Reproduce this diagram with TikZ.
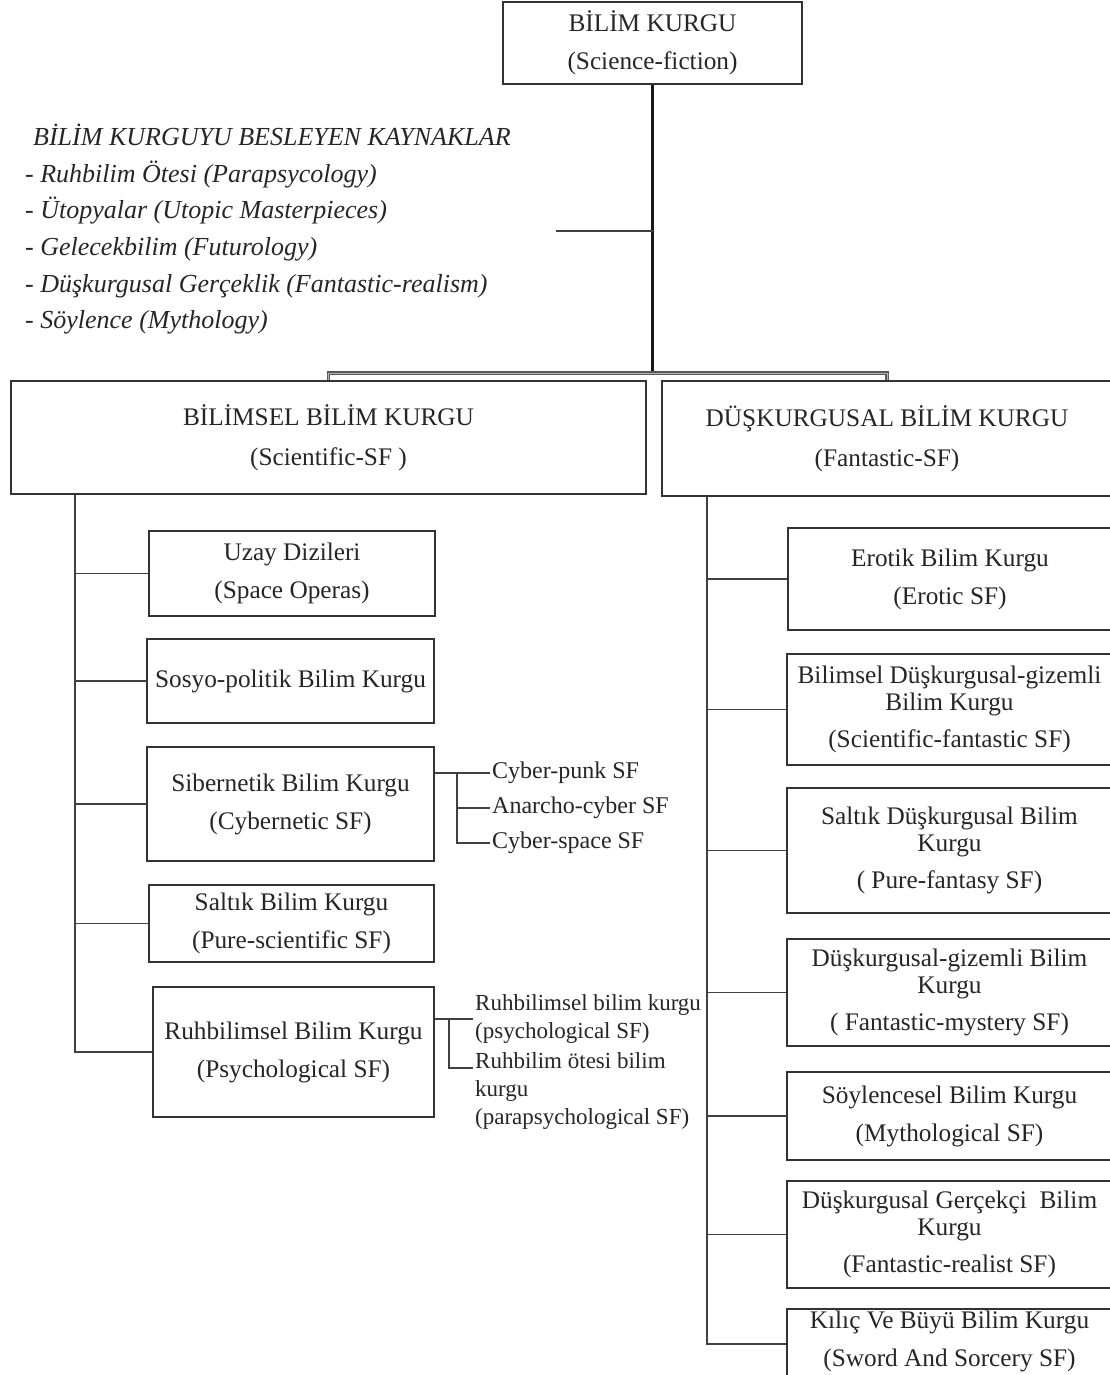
\documentclass[tikz,border=0pt]{standalone}
\usepackage{fontspec}
\setmainfont{Liberation Serif}
\usetikzlibrary{calc}
\begin{document}
\begin{tikzpicture}[x=1pt,y=-1pt,
  box/.style={draw=black!80, line width=1.5pt, rectangle, inner sep=0pt, align=center, text=black!85, font=\fontsize{25.3pt}{38pt}\selectfont},
  boxthree/.style={box, font=\fontsize{25.3pt}{27pt}\selectfont},
  conn/.style={draw=black!75, line width=1.8pt},
  small/.style={text=black!85, inner sep=2pt, anchor=west, align=left, font=\fontsize{24pt}{28pt}\selectfont},
  ruhtext/.style={small, font=\fontsize{23pt}{28pt}\selectfont},
  listtext/.style={text=black!85, inner sep=0pt, anchor=north west, align=left, font=\fontsize{26pt}{36.6pt}\selectfont\itshape}]
\clip (0,0) rectangle (1110,1375);
\fill[white] (0,0) rectangle (1110,1375);

% top
\node[box, minimum width=299pt, minimum height=82pt] (top) at (652.5,43) {BİLİM KURGU\\(Science-fiction)};

% list
\node[listtext] (list) at (25,124) {\hspace*{8pt}BİLİM KURGUYU BESLEYEN KAYNAKLAR\\- Ruhbilim Ötesi (Parapsycology)\\- Ütopyalar (Utopic Masterpieces)\\- Gelecekbilim (Futurology)\\- Düşkurgusal Gerçeklik (Fantastic-realism)\\- Söylence (Mythology)};

% big boxes
\node[box, minimum width=635pt, minimum height=113pt] (lbig) at (328.5,437.5) {BİLİMSEL BİLİM KURGU\\[2pt](Scientific-SF )};
\node[box, minimum width=450pt, minimum height=115pt] (rbig) at (887,438.5) {DÜŞKURGUSAL BİLİM KURGU\\[2pt](Fantastic-SF)};

% left boxes
\node[box, minimum width=286pt, minimum height=85pt] (uzay) at (292,573.5) {Uzay Dizileri\\(Space Operas)};
\node[box, minimum width=287pt, minimum height=84pt] (sosyo) at (290.5,681) {Sosyo-politik Bilim Kurgu};
\node[box, minimum width=287pt, minimum height=114pt] (siber) at (290.5,804) {Sibernetik Bilim Kurgu\\(Cybernetic SF)};
\node[box, minimum width=285pt, minimum height=77pt] (saltik) at (291.5,923.5) {Saltık Bilim Kurgu\\(Pure-scientific SF)};
\node[box, minimum width=281pt, minimum height=130pt] (ruh) at (293.5,1052) {Ruhbilimsel Bilim Kurgu\\(Psychological SF)};

% right boxes
\node[box, minimum width=324pt, minimum height=102pt] (erotik) at (950,579) {Erotik Bilim Kurgu\\(Erotic SF)};
\node[boxthree, minimum width=325pt, minimum height=111pt] (bild) at (949.5,709.5) {Bilimsel Düşkurgusal-gizemli\\Bilim Kurgu\\[10pt](Scientific-fantastic SF)};
\node[boxthree, minimum width=325pt, minimum height=125pt] (saltd) at (949.5,850.5) {Saltık Düşkurgusal Bilim\\Kurgu\\[10pt]( Pure-fantasy SF)};
\node[boxthree, minimum width=325pt, minimum height=107pt] (duskg) at (949.5,992.5) {Düşkurgusal-gizemli Bilim\\Kurgu\\[10pt]( Fantastic-mystery SF)};
\node[box, minimum width=325pt, minimum height=88pt] (soyl) at (949.5,1116) {Söylencesel Bilim Kurgu\\(Mythological SF)};
\node[boxthree, minimum width=325pt, minimum height=107pt] (duskger) at (949.5,1234.5) {Düşkurgusal Gerçekçi\ \ Bilim\\Kurgu\\[10pt](Fantastic-realist SF)};
\node[box, minimum width=325pt, minimum height=80pt] (kilic) at (949.5,1349) {Kılıç Ve Büyü Bilim Kurgu\\(Sword And Sorcery SF)\rule[-21pt]{0pt}{21pt}};

% cyber labels
\node[small] (cp) at (490,773) {Cyber-punk SF};
\node[small] (ac) at (490,808) {Anarcho-cyber SF};
\node[small] (cs) at (490,843) {Cyber-space SF};

% ruh labels
\node[ruhtext] (ruhA) at (473,1019) {Ruhbilimsel bilim kurgu\\(psychological SF)};
\node[ruhtext] (ruhB) at (473,1090.5) {Ruhbilim ötesi bilim\\kurgu\\(parapsychological SF)};

% coordinates
\coordinate (j) at (652.5,373);
\coordinate (lb) at (556,231);
\coordinate (lt) at (75,0);
\coordinate (rt) at (707,0);
\coordinate (kb) at ([yshift=5pt]kilic.west);
\coordinate (cv) at (457,773);
\coordinate (rv) at (449,0);
\coordinate (rb) at ([yshift=22.5pt]ruhB.west);

% top connectors
\draw[line width=2.8pt, black!90] (top.south) -- (j);
\draw[conn] (lb) -- (lb -| j);
\draw[draw=black!65, double=black!30, double distance=0.8pt, line width=1.2pt] (lbig.north) -- (lbig.north |- j) -- (rbig.north |- j) -- (rbig.north);

% left trunk
\draw[conn] (lt |- lbig.south) -- (lt |- ruh.west) -- (ruh.west);
\foreach \n in {uzay,sosyo,siber,saltik} \draw[conn] (lt |- \n.west) -- (\n.west);

% right trunk
\draw[conn] (rt |- rbig.south) -- (rt |- kb) -- (kb);
\foreach \n in {erotik,bild,saltd,duskg,soyl,duskger} \draw[conn] (rt |- \n.west) -- (\n.west);

% cyber
\draw[conn] (siber.east |- cp.west) -- (cp.west);
\draw[conn] (cv) |- (ac.west);
\draw[conn] (cv) |- (cs.west);

% ruh
\draw[conn] (ruh.east |- ruhA.west) -- (ruhA.west);
\draw[conn] (rv |- ruhA.west) |- (rb);
\end{tikzpicture}
\end{document}
